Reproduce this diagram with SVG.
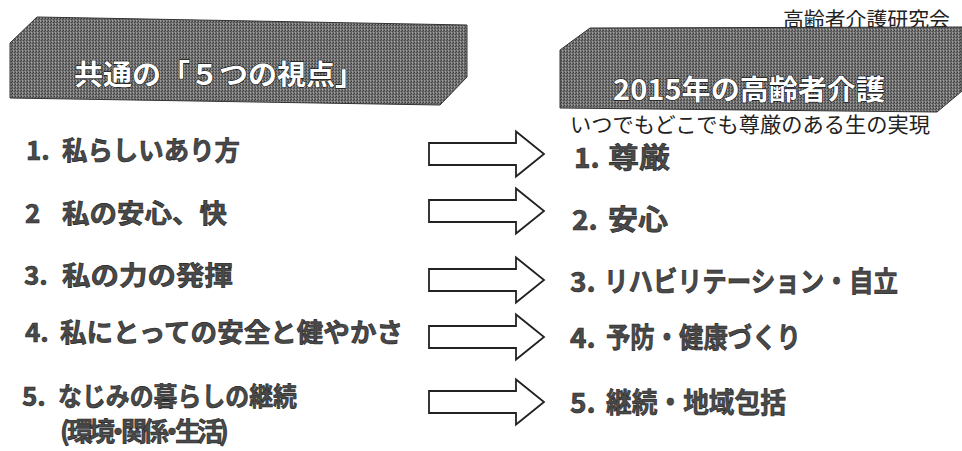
<svg xmlns="http://www.w3.org/2000/svg" width="962" height="451" viewBox="0 0 962 451">
  <defs>
    <pattern id="halftone" width="3" height="3" patternUnits="userSpaceOnUse">
      <rect width="3" height="3" fill="#6f6f6f"/>
      <rect x="0" y="0" width="1" height="1" fill="#3c3c3c"/>
      <rect x="2" y="1" width="1" height="1" fill="#474747"/>
      <rect x="1" y="2" width="1" height="1" fill="#a0a0a0"/>
      <rect x="1" y="0" width="1" height="1" fill="#939393"/>
    </pattern>
    <path id="arrow" d="M0,-11 H87 V-22.5 L115,0 L87,22.5 V11 H0 Z"/>
  </defs>
  <style>
    .banner { fill: url(#halftone); stroke: #333; stroke-width: 1; }
    .btitle { font-family: "Noto Sans CJK JP", sans-serif; font-weight: bold; font-size: 28px; fill: #ffffff; stroke: #1a1a1a; stroke-width: 1.3px; stroke-linejoin: round; }
    .item { font-family: "Noto Sans CJK JP", sans-serif; font-weight: bold; font-size: 26px; fill: #4a4a4a; stroke: #222; stroke-width: 0.6px; }
    .ritem { font-family: "Noto Sans CJK JP", sans-serif; font-weight: bold; font-size: 28px; fill: #4a4a4a; stroke: #222; stroke-width: 0.6px; }
    .plain { font-family: "Noto Sans CJK JP", sans-serif; font-weight: normal; fill: #222; }
    .arr { fill: #ffffff; stroke: #222; stroke-width: 1.8; stroke-linejoin: miter; }
  </style>

  <g id="header">
    <text class="plain" x="783" y="27" font-size="20" textLength="167" lengthAdjust="spacingAndGlyphs">高齢者介護研究会</text>
  </g>

  <g id="left-banner">
    <polygon class="banner" points="10,43 37,17 467,25 467,77 440,105 10,98"/>
    <text class="btitle" paint-order="stroke" x="74" y="85" textLength="290" lengthAdjust="spacingAndGlyphs">共通の「５つの視点」</text>
  </g>

  <g id="right-banner">
    <polygon class="banner" points="560,50 590,28 962,27 962,91 937,112 560,108"/>
    <text class="btitle" paint-order="stroke" x="613" y="100" textLength="272" lengthAdjust="spacingAndGlyphs">2015年の高齢者介護</text>
    <text class="plain" x="570" y="132" font-size="21" textLength="360" lengthAdjust="spacingAndGlyphs">いつでもどこでも尊厳のある生の実現</text>
  </g>

  <g id="left-1">
    <text class="item" x="26" y="160">1.</text>
    <text class="item" x="62" y="160" textLength="178" lengthAdjust="spacingAndGlyphs">私らしいあり方</text>
  </g>
  <g id="left-2">
    <text class="item" x="25" y="223">2</text>
    <text class="item" x="62" y="223" textLength="165" lengthAdjust="spacingAndGlyphs">私の安心、快</text>
  </g>
  <g id="left-3">
    <text class="item" x="24" y="285">3.</text>
    <text class="item" x="62" y="285" textLength="171" lengthAdjust="spacingAndGlyphs">私の力の発揮</text>
  </g>
  <g id="left-4">
    <text class="item" x="25" y="342">4.</text>
    <text class="item" x="60" y="342" textLength="343" lengthAdjust="spacingAndGlyphs">私にとっての安全と健やかさ</text>
  </g>
  <g id="left-5">
    <text class="item" x="22" y="406">5.</text>
    <text class="item" x="58" y="406" textLength="239" lengthAdjust="spacingAndGlyphs">なじみの暮らしの継続</text>
    <text class="item" font-size="22" y="441" x="60 67 89 105 121 143 159 175 197 219">(環境・関係・生活)</text>
  </g>

  <g id="connectors">
    <use href="#arrow" class="arr" x="429" y="154"/>
    <use href="#arrow" class="arr" x="429" y="211"/>
    <use href="#arrow" class="arr" x="429" y="280"/>
    <use href="#arrow" class="arr" x="429" y="337"/>
    <use href="#arrow" class="arr" x="429" y="402"/>
  </g>

  <g id="right-1">
    <text class="ritem" x="574" y="168">1.</text>
    <text class="ritem" x="608" y="168" textLength="62" lengthAdjust="spacingAndGlyphs">尊厳</text>
  </g>
  <g id="right-2">
    <text class="ritem" x="572" y="230">2.</text>
    <text class="ritem" x="608" y="230" textLength="60" lengthAdjust="spacingAndGlyphs">安心</text>
  </g>
  <g id="right-3">
    <text class="ritem" x="570" y="292">3.</text>
    <text class="ritem" x="604" y="292" textLength="294" lengthAdjust="spacingAndGlyphs">リハビリテーション・自立</text>
  </g>
  <g id="right-4">
    <text class="ritem" x="570" y="348">4.</text>
    <text class="ritem" x="606" y="348" textLength="195" lengthAdjust="spacingAndGlyphs">予防・健康づくり</text>
  </g>
  <g id="right-5">
    <text class="ritem" x="570" y="413">5.</text>
    <text class="ritem" x="606" y="413" textLength="180" lengthAdjust="spacingAndGlyphs">継続・地域包括</text>
  </g>
</svg>
